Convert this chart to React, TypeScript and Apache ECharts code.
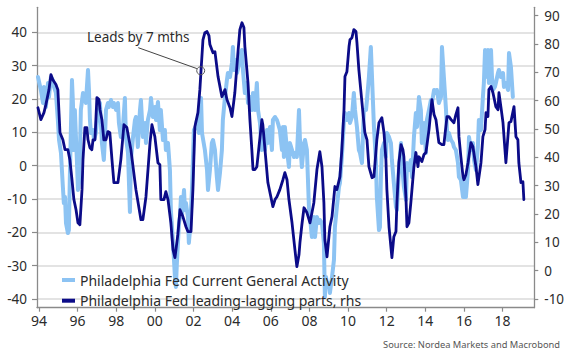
import React, { useEffect, useRef } from 'react';
import * as echarts from 'echarts';

// Philadelphia Fed Current General Activity (left axis), [decimal year, value]
const activity: [number, number][] = [
  [1993.95,26.6],[1994.10,22.7],[1994.21,18.8],[1994.26,23.6],[1994.36,17.6],[1994.47,24.8],[1994.52,20.6],[1994.62,26.6],[1994.72,25.7],[1994.78,23.6],[1994.88,21.8],[1994.98,13.7],[1995.04,7.7],[1995.14,3.8],[1995.24,-6.4],[1995.29,-11.2],[1995.35,-9.4],[1995.40,-17.2],[1995.50,-20.2],[1995.55,-19.3],[1995.60,-3.4],[1995.71,25.7],[1995.76,18.8],[1995.81,4.7],[1995.86,16.7],[1995.97,0.8],[1996.02,-7.3],[1996.07,-5.2],[1996.12,2.6],[1996.17,16.7],[1996.28,21.8],[1996.33,19.7],[1996.38,20.6],[1996.43,18.8],[1996.54,28.7],[1996.59,22.7],[1996.64,13.7],[1996.69,9.8],[1996.80,10.7],[1996.85,7.7],[1996.95,9.8],[1997.05,16.7],[1997.11,13.7],[1997.16,18.8],[1997.26,6.8],[1997.36,1.7],[1997.42,8.6],[1997.47,16.7],[1997.57,18.8],[1997.62,17.6],[1997.73,19.7],[1997.83,17.6],[1997.88,18.8],[1997.99,16.7],[1998.09,18.8],[1998.14,12.8],[1998.24,8.6],[1998.35,11.6],[1998.45,20.3],[1998.50,8.6],[1998.61,3.8],[1998.71,-13.9],[1998.76,1.7],[1998.87,8.6],[1998.97,13.7],[1999.02,14.6],[1999.12,5.6],[1999.23,16.7],[1999.28,19.7],[1999.38,8.6],[1999.49,12.8],[1999.54,6.8],[1999.64,13.7],[1999.75,16.7],[1999.80,20.3],[1999.90,14.6],[2000.00,17.6],[2000.06,13.7],[2000.16,19.1],[2000.26,10.7],[2000.31,16.7],[2000.42,7.7],[2000.52,10.7],[2000.57,4.7],[2000.68,6.8],[2000.78,-1.3],[2000.83,-13.3],[2000.94,-23.2],[2001.04,-33.4],[2001.09,-36.4],[2001.14,-29.2],[2001.25,-17.2],[2001.30,-15.4],[2001.35,-9.4],[2001.40,-15.4],[2001.51,-7.3],[2001.56,-13.3],[2001.61,-11.2],[2001.71,-15.4],[2001.76,-23.2],[2001.82,-19.3],[2001.92,-7.3],[2002.02,10.7],[2002.13,11.6],[2002.18,13.7],[2002.28,9.8],[2002.39,20.3],[2002.44,9.8],[2002.59,4.7],[2002.70,-1.3],[2002.75,-7.3],[2002.85,-1.3],[2002.95,6.8],[2003.01,7.7],[2003.11,4.7],[2003.21,-3.4],[2003.27,-7.3],[2003.37,-2.2],[2003.47,4.7],[2003.52,13.7],[2003.63,20.6],[2003.73,25.7],[2003.78,27.8],[2003.89,26.6],[2003.99,30.8],[2004.04,35.6],[2004.09,28.7],[2004.20,31.7],[2004.25,27.8],[2004.35,30.2],[2004.46,33.8],[2004.51,34.7],[2004.56,28.7],[2004.66,21.8],[2004.77,24.8],[2004.82,18.8],[2004.92,20.6],[2005.02,16.7],[2005.08,21.8],[2005.18,16.7],[2005.28,24.8],[2005.34,16.7],[2005.44,12.8],[2005.54,4.7],[2005.59,9.8],[2005.70,4.7],[2005.80,10.7],[2005.85,6.8],[2005.96,11.6],[2006.06,4.7],[2006.11,13.7],[2006.22,14.6],[2006.32,13.7],[2006.37,12.8],[2006.47,10.7],[2006.58,4.7],[2006.63,11.6],[2006.68,2.6],[2006.73,11.6],[2006.84,4.7],[2006.94,-0.4],[2006.99,6.8],[2007.10,4.7],[2007.20,2.6],[2007.25,3.8],[2007.35,2.6],[2007.46,16.7],[2007.51,7.7],[2007.61,-0.4],[2007.72,6.8],[2007.77,7.7],[2007.87,4.7],[2007.98,-13.3],[2008.03,-15.4],[2008.13,-21.4],[2008.23,-15.4],[2008.29,-21.4],[2008.39,-15.4],[2008.49,-17.2],[2008.54,-16.3],[2008.65,-17.2],[2008.75,-23.2],[2008.80,-39.4],[2008.86,-33.4],[2008.91,-36.4],[2009.01,-35.3],[2009.06,-38.2],[2009.17,-33.4],[2009.27,-28.3],[2009.32,-18.4],[2009.42,-12.4],[2009.53,-6.4],[2009.58,-5.2],[2009.68,2.6],[2009.79,13.7],[2009.84,15.8],[2009.94,13.7],[2010.05,15.8],[2010.10,12.8],[2010.20,14.6],[2010.30,21.8],[2010.36,16.7],[2010.46,11.6],[2010.56,4.7],[2010.62,3.8],[2010.72,0.8],[2010.82,16.7],[2010.93,16.7],[2010.98,19.7],[2011.08,26.6],[2011.18,35.6],[2011.24,26.6],[2011.34,11.6],[2011.44,1.7],[2011.49,-9.4],[2011.60,-19.3],[2011.65,-18.4],[2011.70,-3.4],[2011.75,4.7],[2011.86,6.8],[2011.96,2.6],[2012.01,9.8],[2012.12,8.6],[2012.22,6.8],[2012.27,1.7],[2012.37,-5.2],[2012.48,-12.4],[2012.53,-13.3],[2012.63,-1.3],[2012.74,6.8],[2012.79,0.8],[2012.89,-6.4],[2013.00,-10.3],[2013.05,0.8],[2013.15,-1.3],[2013.25,1.7],[2013.31,-3.4],[2013.41,8.6],[2013.51,15.8],[2013.57,11.6],[2013.67,20.6],[2013.77,16.7],[2013.82,6.8],[2013.93,12.8],[2014.03,3.8],[2014.08,13.7],[2014.19,16.7],[2014.29,19.7],[2014.34,18.8],[2014.45,22.7],[2014.55,21.8],[2014.60,22.7],[2014.70,18.8],[2014.81,20.6],[2014.86,35.6],[2014.96,26.6],[2015.07,16.7],[2015.12,10.7],[2015.17,7.7],[2015.22,9.8],[2015.33,7.7],[2015.43,6.8],[2015.48,5.6],[2015.58,4.7],[2015.69,0.8],[2015.74,-3.4],[2015.84,-4.3],[2015.95,-9.4],[2016.00,-5.2],[2016.10,-9.4],[2016.21,-1.3],[2016.26,8.6],[2016.36,4.7],[2016.46,6.8],[2016.52,1.7],[2016.62,-1.3],[2016.72,5.6],[2016.77,13.7],[2016.88,10.7],[2016.98,20.6],[2017.03,24.8],[2017.09,34.7],[2017.19,26.6],[2017.24,34.7],[2017.29,24.8],[2017.40,34.7],[2017.45,26.6],[2017.50,22.7],[2017.60,23.6],[2017.65,24.8],[2017.76,27.8],[2017.81,28.7],[2017.91,26.6],[2018.02,27.8],[2018.07,23.6],[2018.17,24.8],[2018.28,22.7],[2018.33,33.8],[2018.43,29.6],[2018.53,20.6]
];

// Philadelphia Fed leading-lagging parts (right axis), [decimal year, value]
const leading: [number, number][] = [
  [1993.95,57.5],[1994.10,53.3],[1994.26,55.8],[1994.36,58.6],[1994.52,63.9],[1994.62,69.2],[1994.72,67.4],[1994.88,65.7],[1994.98,63.9],[1995.09,48.7],[1995.24,46.2],[1995.35,42.7],[1995.50,42.7],[1995.60,39.2],[1995.71,32.1],[1995.81,25.1],[1995.92,21.5],[1996.02,16.9],[1996.12,16.2],[1996.23,28.6],[1996.28,39.2],[1996.38,50.5],[1996.48,50.5],[1996.54,46.2],[1996.64,43.4],[1996.74,42.7],[1996.80,46.2],[1996.90,46.2],[1997.00,61.1],[1997.11,60.4],[1997.16,56.8],[1997.26,53.3],[1997.36,46.2],[1997.47,46.2],[1997.57,49.1],[1997.67,48.7],[1997.78,39.2],[1997.88,31.1],[1998.09,31.1],[1998.24,39.2],[1998.40,51.5],[1998.55,50.5],[1998.76,42.7],[1999.02,28.6],[1999.28,18.0],[1999.38,18.0],[1999.54,26.1],[1999.75,45.2],[1999.85,51.5],[2000.00,47.3],[2000.16,38.1],[2000.26,37.4],[2000.31,25.1],[2000.47,25.1],[2000.57,27.9],[2000.68,25.1],[2000.83,16.9],[2000.94,7.4],[2001.04,4.6],[2001.19,12.7],[2001.30,21.5],[2001.45,19.1],[2001.61,15.5],[2001.71,13.8],[2001.87,13.8],[2001.97,28.6],[2002.07,50.8],[2002.23,55.8],[2002.33,63.9],[2002.39,70.6],[2002.49,81.5],[2002.59,84.0],[2002.70,84.4],[2002.80,83.0],[2002.85,79.8],[2002.95,78.0],[2003.01,76.9],[2003.11,77.3],[2003.27,68.5],[2003.47,61.4],[2003.63,63.9],[2003.73,60.4],[2003.89,57.5],[2003.99,54.4],[2004.14,62.8],[2004.30,77.0],[2004.40,85.1],[2004.51,87.5],[2004.61,85.8],[2004.66,79.1],[2004.82,66.4],[2004.92,53.3],[2005.02,42.7],[2005.08,35.7],[2005.18,35.7],[2005.28,36.7],[2005.39,43.8],[2005.54,53.3],[2005.59,51.5],[2005.70,42.7],[2005.85,31.1],[2005.96,27.5],[2006.11,22.6],[2006.22,25.1],[2006.32,26.1],[2006.47,28.6],[2006.63,32.1],[2006.73,34.6],[2006.84,32.1],[2006.94,25.1],[2007.10,16.9],[2007.25,7.4],[2007.35,1.4],[2007.46,5.6],[2007.51,9.9],[2007.61,16.2],[2007.72,22.2],[2007.87,20.5],[2008.03,16.9],[2008.23,24.0],[2008.39,35.7],[2008.54,42.0],[2008.65,36.7],[2008.75,24.0],[2008.80,10.9],[2008.91,4.9],[2009.06,15.5],[2009.17,19.1],[2009.32,29.7],[2009.42,28.6],[2009.58,33.2],[2009.68,42.7],[2009.79,56.8],[2009.84,68.5],[2009.94,70.2],[2010.05,79.1],[2010.10,81.5],[2010.20,82.2],[2010.30,85.1],[2010.41,84.4],[2010.46,80.5],[2010.56,70.9],[2010.72,59.3],[2010.87,48.7],[2010.98,46.2],[2011.08,36.7],[2011.24,32.8],[2011.34,33.2],[2011.49,46.2],[2011.60,52.2],[2011.75,54.0],[2011.86,48.7],[2011.96,39.2],[2012.01,28.6],[2012.12,15.5],[2012.27,4.6],[2012.37,12.0],[2012.48,13.8],[2012.53,24.0],[2012.63,38.1],[2012.74,44.5],[2012.84,42.7],[2012.89,40.2],[2013.00,25.1],[2013.05,15.5],[2013.15,16.9],[2013.25,24.0],[2013.41,36.7],[2013.51,41.7],[2013.62,36.7],[2013.67,40.2],[2013.82,38.5],[2013.93,41.0],[2014.03,41.7],[2014.19,49.8],[2014.34,60.4],[2014.45,55.1],[2014.55,53.3],[2014.70,45.2],[2014.86,44.5],[2014.96,44.5],[2015.12,54.4],[2015.22,54.4],[2015.33,53.3],[2015.48,52.2],[2015.58,55.1],[2015.69,57.5],[2015.74,47.3],[2015.84,40.2],[2015.95,33.2],[2016.00,32.1],[2016.10,33.9],[2016.21,38.1],[2016.36,45.2],[2016.46,43.8],[2016.62,36.7],[2016.72,30.4],[2016.88,38.1],[2016.98,47.3],[2017.09,49.8],[2017.14,55.8],[2017.24,54.4],[2017.29,63.9],[2017.40,65.0],[2017.50,62.8],[2017.65,57.9],[2017.76,56.8],[2017.81,62.8],[2017.91,57.9],[2018.02,52.2],[2018.17,38.1],[2018.33,52.2],[2018.43,52.6],[2018.59,57.9],[2018.69,47.3],[2018.79,46.2],[2018.84,38.1],[2018.95,31.1],[2019.05,31.4],[2019.10,25.1]
];

const yearTicks = [1994, 1996, 1998, 2000, 2002, 2004, 2006, 2008, 2010, 2012, 2014, 2016, 2018];
const leftTicks = [-40, -30, -20, -10, 0, 10, 20, 30, 40];
const rightTicks = [-10, 0, 10, 20, 30, 40, 50, 60, 70, 80, 90];
const seriesNames = [
  'Philadelphia Fed Current General Activity',
  'Philadelphia Fed leading-lagging parts, rhs',
];
const annotationText = 'Leads by 7 mths';
const sourceText = 'Source: Nordea Markets and Macrobond';

const FONT = '"Noto Sans", "Open Sans", sans-serif';
const LIGHT = '#8cc3f3';
const DARK = '#0b0b88';
const AXIS = '#8a8a8a';
const TEXT = '#2b2b2b';

export default function App() {
  const ref = useRef<HTMLDivElement>(null);
  useEffect(() => {
    if (!ref.current) return;
    const chart = echarts.init(ref.current, null, { renderer: 'svg' });
    chart.setOption({
      animation: false,
      backgroundColor: '#ffffff',
      grid: { left: 37, right: 35.7, top: 7.3, bottom: 52.3, containLabel: false },
      legend: {
        data: seriesNames,
        orient: 'vertical',
        left: 57,
        top: 267,
        itemWidth: 13,
        itemHeight: 4,
        itemGap: 4.7,
        icon: 'rect',
        selectedMode: false,
        textStyle: { fontSize: 14, color: TEXT, fontFamily: FONT, lineHeight: 16 },
      },
      xAxis: {
        type: 'value',
        min: 1993.9,
        max: 2019.64,
        axisLine: { show: true, onZero: false, lineStyle: { color: AXIS, width: 1.3 } },
        axisTick: { show: true, length: 4, customValues: yearTicks, lineStyle: { color: AXIS, width: 1.2 } },
        axisLabel: {
          customValues: yearTicks,
          color: TEXT,
          fontSize: 14,
          fontFamily: FONT,
          margin: 6,
          formatter: (v: number) => String(Math.round(v) % 100).padStart(2, '0'),
        },
        splitLine: { show: false },
      },
      yAxis: [
        {
          type: 'value',
          position: 'left',
          min: -42.6,
          max: 47.5,
          axisLine: { show: true, onZero: false, lineStyle: { color: AXIS, width: 1.3 } },
          axisTick: { show: true, length: 5, customValues: leftTicks, lineStyle: { color: AXIS, width: 1.2 } },
          axisLabel: { customValues: leftTicks, color: TEXT, fontSize: 13.5, fontFamily: FONT, margin: 10 },
          splitLine: { show: true, lineStyle: { color: '#dadada', width: 1.5 } },
        },
        {
          type: 'value',
          position: 'right',
          min: -13.07,
          max: 92.96,
          axisLine: { show: true, onZero: false, lineStyle: { color: AXIS, width: 1.3 } },
          axisTick: { show: true, length: 4, customValues: rightTicks, lineStyle: { color: AXIS, width: 1.2 } },
          axisLabel: { customValues: rightTicks, color: TEXT, fontSize: 13.5, fontFamily: FONT, margin: 10 },
          splitLine: { show: false },
        },
      ],
      series: [
        {
          name: seriesNames[0],
          type: 'line',
          yAxisIndex: 0,
          data: activity,
          symbol: 'none',
          color: LIGHT,
          itemStyle: { color: LIGHT },
          lineStyle: { color: LIGHT, width: 4, join: 'round', cap: 'round' },
          z: 2,
        },
        {
          name: seriesNames[1],
          type: 'line',
          yAxisIndex: 1,
          data: leading,
          symbol: 'none',
          color: DARK,
          itemStyle: { color: DARK },
          lineStyle: { color: DARK, width: 2.8, join: 'round', cap: 'round' },
          z: 3,
        },
      ],
      graphic: [
        {
          type: 'text',
          x: 87,
          y: 37,
          z: 10,
          style: {
            text: annotationText,
            fontSize: 13.5,
            fontFamily: FONT,
            fill: TEXT,
            align: 'left',
            verticalAlign: 'middle',
          },
        },
        {
          type: 'line',
          z: 10,
          shape: { x1: 138.3, y1: 47.7, x2: 196.9, y2: 68.6 },
          style: { stroke: '#444', lineWidth: 1 },
        },
        {
          type: 'circle',
          z: 10,
          shape: { cx: 200.7, cy: 70.7, r: 4 },
          style: { stroke: '#555', lineWidth: 1, fill: 'none' },
        },
        {
          type: 'text',
          x: 560,
          y: 344,
          z: 10,
          style: {
            text: sourceText,
            fontSize: 9.3,
            fontFamily: FONT,
            fill: '#555',
            align: 'right',
            verticalAlign: 'middle',
          },
        },
      ],
    });
    return () => chart.dispose();
  }, []);
  return (
    <div
      ref={ref}
      style={{ position: 'absolute', left: 0, top: 0, width: 570, height: 360, background: '#fff' }}
    />
  );
}
